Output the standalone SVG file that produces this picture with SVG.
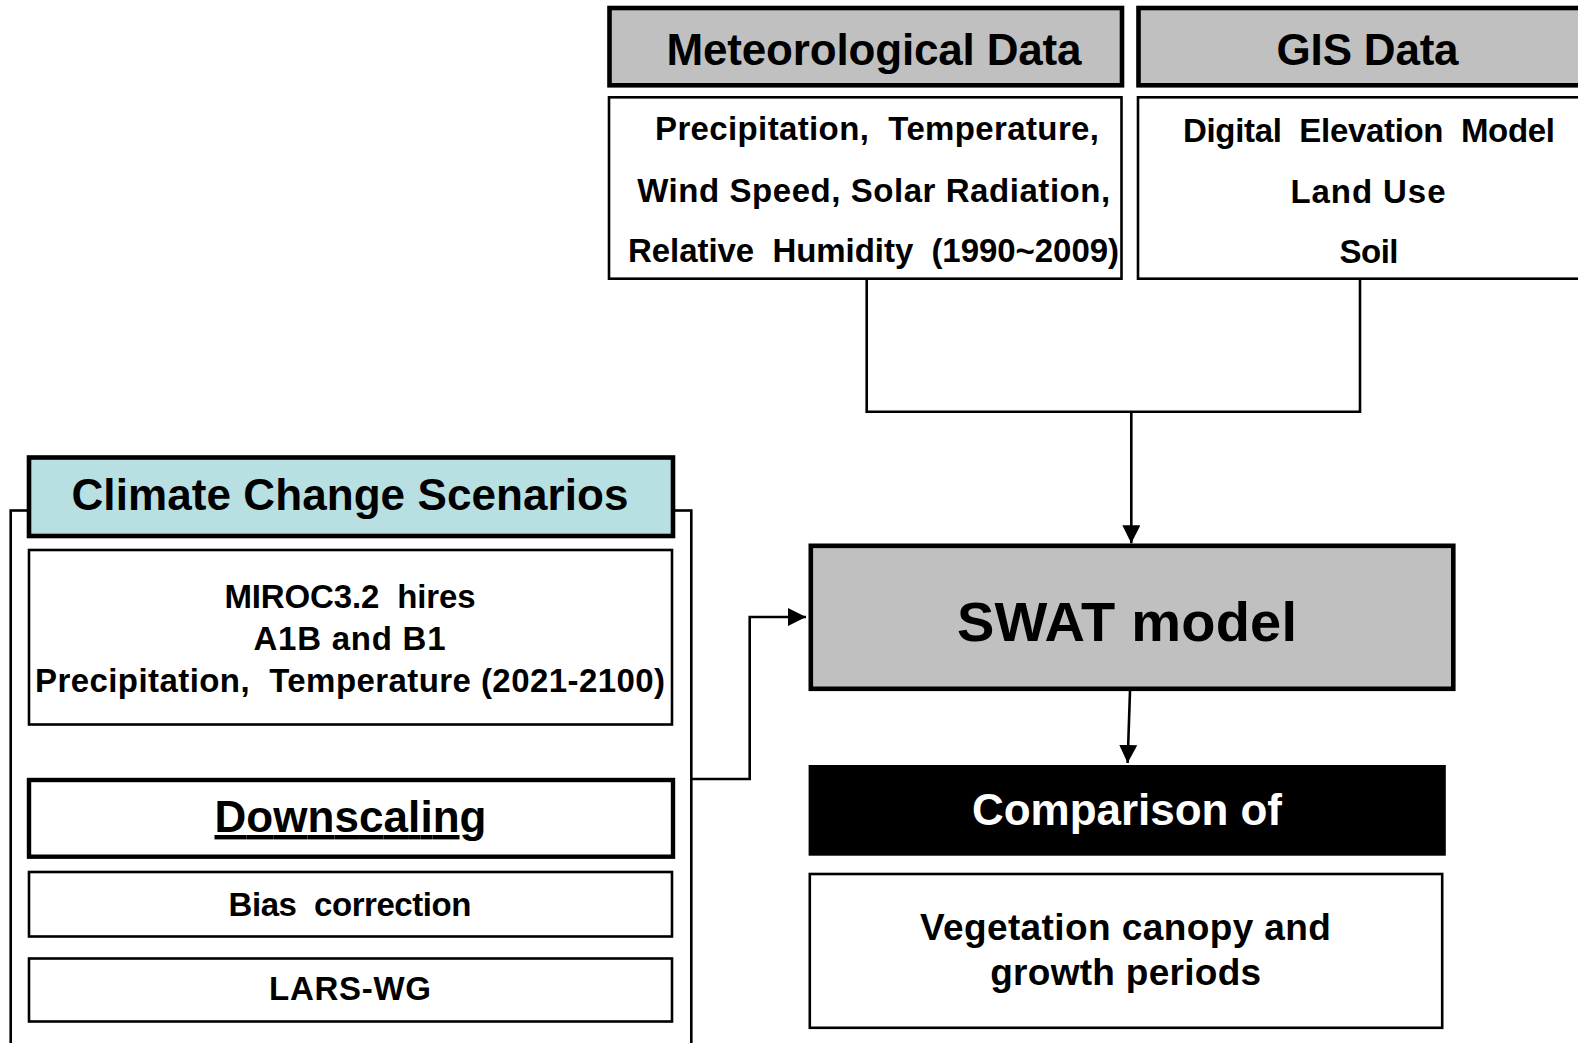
<svg xmlns="http://www.w3.org/2000/svg" width="1578" height="1043" viewBox="0 0 1578 1043">
<defs>
<marker id="arr" markerUnits="userSpaceOnUse" markerWidth="18" markerHeight="18" refX="18" refY="9" orient="auto">
<path d="M0,0 L18,9 L0,18 Z" fill="#000"/>
</marker>
<style>
.thick{fill:#c0c0c0;stroke:#000;stroke-width:4.6}
.teal{fill:#b8dfe2;stroke:#000;stroke-width:4.6}
.boxw{fill:#fff;stroke:#000;stroke-width:2.6}
.boxwt{fill:#fff;stroke:#000;stroke-width:4.4}
.line{fill:none;stroke:#000;stroke-width:2.6}
text{font-family:"Liberation Sans",Arial,sans-serif;font-weight:bold;fill:#000;text-anchor:middle}
.h{font-size:44px}
.b{font-size:33px}
</style>
</defs>

<g id="scenario-frame">
<rect x="10.7" y="510.5" width="680.6" height="560" class="line"/>
</g>

<g id="met-header">
<rect x="609.5" y="8" width="512.5" height="77.3" class="thick"/>
<text class="h" x="874" y="65" textLength="415">Meteorological Data</text>
</g>
<g id="met-body">
<rect x="609" y="97.3" width="512.5" height="181.4" class="boxw"/>
<text class="b" x="877" y="140" textLength="444">Precipitation,&#160; Temperature,</text>
<text class="b" x="873.7" y="201.5" textLength="473">Wind Speed, Solar Radiation,</text>
<text class="b" x="873.5" y="262" textLength="491">Relative&#160; Humidity&#160; (1990~2009)</text>
</g>

<g id="gis-header">
<rect x="1138.5" y="8" width="500" height="77.3" class="thick"/>
<text class="h" x="1367.6" y="65" textLength="182">GIS Data</text>
</g>
<g id="gis-body">
<rect x="1138" y="97.3" width="500" height="181.4" class="boxw"/>
<text class="b" x="1369" y="141.5" textLength="372">Digital&#160; Elevation&#160; Model</text>
<text class="b" x="1368" y="202.5" textLength="155">Land Use</text>
<text class="b" x="1369" y="263" textLength="59">Soil</text>
</g>

<g id="climate-header">
<rect x="29" y="457.5" width="644" height="78.5" class="teal"/>
<text class="h" x="350" y="510" textLength="557">Climate Change Scenarios</text>
</g>
<g id="miroc">
<rect x="29" y="550" width="643" height="174.5" class="boxw"/>
<text class="b" x="350" y="607.5" textLength="251">MIROC3.2&#160; hires</text>
<text class="b" x="349.5" y="650" textLength="192">A1B and B1</text>
<text class="b" x="350" y="692" textLength="630">Precipitation,&#160; Temperature (2021-2100)</text>
</g>
<g id="downscaling">
<rect x="29" y="780" width="644" height="76.7" class="boxwt"/>
<text class="h" x="350.5" y="832" textLength="272" text-decoration="underline">Downscaling</text>
</g>
<g id="bias">
<rect x="29" y="872" width="643" height="64.5" class="boxw"/>
<text class="b" x="350" y="916" textLength="243">Bias&#160; correction</text>
</g>
<g id="lars">
<rect x="29" y="958.5" width="643" height="63" class="boxw"/>
<text class="b" x="350" y="1000" textLength="162">LARS-WG</text>
</g>

<g id="swat">
<rect x="810.8" y="545.8" width="642.5" height="143" class="thick"/>
<text x="1127" y="640.5" font-size="56" textLength="340">SWAT model</text>
</g>
<g id="comparison">
<rect x="808.6" y="765" width="637.2" height="90.7" fill="#000"/>
<text class="h" x="1127" y="825" textLength="310" style="fill:#fff">Comparison of</text>
</g>
<g id="vegetation">
<rect x="809.8" y="874" width="632.4" height="153.8" class="boxw"/>
<text x="1125.4" y="940" font-size="37" textLength="411">Vegetation canopy and</text>
<text x="1125.7" y="985" font-size="37" textLength="271">growth periods</text>
</g>

<g id="connectors">
<path d="M866.7,279 V411.7 H1360 V279" class="line"/>
<path d="M1131.3,411.7 V543.3" class="line" marker-end="url(#arr)"/>
<path d="M1130,691 L1127.6,763" class="line" marker-end="url(#arr)"/>
<path d="M691.3,779 H749.7 V617 H806" class="line" marker-end="url(#arr)"/>
</g>
</svg>
